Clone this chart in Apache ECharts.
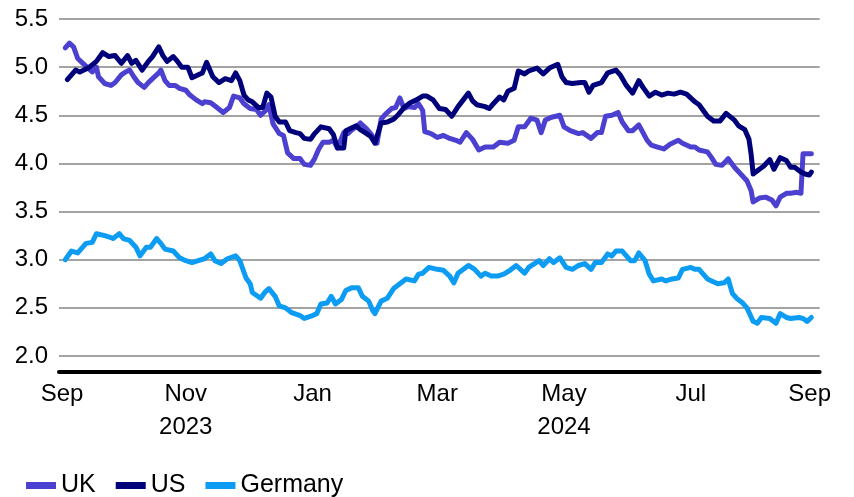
<!DOCTYPE html>
<html>
<head>
<meta charset="utf-8">
<title>10-year government bond yields</title>
<script src="https://cdn.jsdelivr.net/npm/echarts@6/dist/echarts.min.js"></script>
<style>
  html, body { margin: 0; padding: 0; background: #fff; }
  #chart { width: 854px; height: 497px; }
</style>
</head>
<body>
<div id="chart"></div>
<script>
// Days are counted from 1 Sep 2023; values are yields in %.
const seriesNames = ['UK', 'US', 'Germany'];
const seriesColors = ['#4b40cf', '#00007a', '#0d9cf3'];

const ukDays = [3,5,7,9,11,14,16,18,19,22,25,27,30,32,34,36,38,41,43,45,48,49,51,53,56,58,61,63,66,69,70,73,76,79,82,84,87,89,92,95,97,100,101,103,106,108,110,113,116,118,121,123,125,127,130,132,134,137,139,141,143,145,148,150,153,155,157,160,162,164,166,168,171,173,175,176,179,182,185,188,191,193,196,199,202,205,209,212,216,219,221,224,227,230,232,234,237,241,243,246,250,252,256,259,261,263,266,269,271,274,276,279,283,285,288,291,294,298,300,304,306,308,312,314,316,319,322,325,328,331,333,334,337,340,343,345,347,350,352,355,357,358,360,362];
const ukValues = [5.20,5.25,5.21,5.09,5.05,4.99,4.95,5.00,4.90,4.83,4.81,4.84,4.92,4.95,4.97,4.90,4.84,4.79,4.84,4.88,4.94,4.97,4.86,4.81,4.81,4.78,4.76,4.71,4.66,4.62,4.64,4.63,4.58,4.53,4.58,4.70,4.68,4.62,4.57,4.56,4.50,4.56,4.61,4.41,4.31,4.29,4.11,4.05,4.05,3.99,3.98,4.05,4.15,4.22,4.22,4.24,4.16,4.32,4.31,4.35,4.38,4.42,4.36,4.31,4.21,4.46,4.51,4.57,4.58,4.68,4.57,4.59,4.58,4.62,4.55,4.33,4.31,4.27,4.29,4.26,4.24,4.22,4.32,4.25,4.14,4.17,4.17,4.22,4.21,4.24,4.38,4.38,4.47,4.45,4.32,4.45,4.48,4.50,4.38,4.34,4.31,4.32,4.26,4.32,4.32,4.49,4.50,4.53,4.43,4.34,4.34,4.40,4.24,4.19,4.17,4.15,4.20,4.24,4.21,4.17,4.17,4.14,4.12,4.06,3.99,3.98,4.05,3.96,3.89,3.82,3.72,3.60,3.64,3.65,3.62,3.56,3.65,3.69,3.69,3.70,3.69,4.10,4.10,4.10];

const usDays = [4,8,10,14,18,21,24,27,30,33,35,37,40,43,45,48,50,52,55,57,59,62,64,67,69,71,74,77,80,83,85,87,89,91,93,96,98,100,102,104,106,109,111,114,116,118,121,123,126,130,132,134,137,138,141,143,145,148,150,152,155,158,161,163,166,169,172,175,177,180,183,186,189,192,197,199,201,205,207,209,212,214,216,219,221,224,226,230,233,236,240,242,244,247,251,253,255,257,261,264,268,270,273,276,279,281,284,287,290,293,296,299,302,306,308,312,315,318,321,325,327,330,332,333,334,337,339,342,344,347,350,352,354,357,359,361,362];
const usValues = [4.87,4.97,4.95,4.99,5.06,5.15,5.11,5.12,5.04,5.12,5.04,5.07,4.97,5.06,5.11,5.21,5.12,5.06,5.11,5.06,5.00,5.00,4.89,4.92,4.94,5.05,4.90,4.84,4.88,4.86,4.94,4.86,4.71,4.66,4.64,4.58,4.58,4.73,4.69,4.49,4.43,4.43,4.34,4.32,4.31,4.26,4.25,4.31,4.38,4.36,4.30,4.16,4.16,4.34,4.37,4.39,4.35,4.31,4.28,4.21,4.42,4.43,4.46,4.50,4.58,4.63,4.66,4.70,4.70,4.66,4.57,4.56,4.49,4.59,4.73,4.65,4.61,4.59,4.57,4.62,4.69,4.66,4.75,4.78,4.96,4.93,4.96,4.99,4.93,4.99,5.03,4.90,4.84,4.83,4.84,4.84,4.74,4.81,4.84,4.94,4.97,4.92,4.81,4.73,4.86,4.79,4.70,4.74,4.71,4.73,4.72,4.74,4.72,4.64,4.61,4.49,4.44,4.44,4.52,4.45,4.39,4.35,4.25,4.10,3.89,3.94,3.97,4.04,3.94,4.06,4.03,3.96,3.96,3.91,3.89,3.88,3.91];

const deDays = [3,6,9,13,16,18,22,25,26,29,31,34,37,39,42,44,47,49,51,55,58,61,64,67,70,73,75,78,81,85,87,90,92,93,97,99,101,104,106,109,112,116,118,122,124,126,129,131,133,136,138,141,144,146,149,151,152,155,158,161,164,167,171,173,175,178,182,185,188,190,192,197,200,203,205,208,211,214,217,220,224,226,231,233,236,238,241,244,247,250,253,256,258,261,264,266,268,271,275,277,279,282,284,286,290,292,295,298,300,304,306,308,312,314,317,320,322,324,326,329,331,334,336,338,342,345,347,350,352,356,358,360,362];
const deValues = [3.00,3.09,3.07,3.17,3.18,3.27,3.25,3.23,3.22,3.27,3.22,3.20,3.13,3.04,3.13,3.13,3.22,3.17,3.11,3.09,3.02,2.99,2.97,2.99,3.01,3.06,2.99,2.96,3.01,3.04,2.99,2.81,2.75,2.66,2.60,2.66,2.70,2.62,2.52,2.50,2.45,2.42,2.39,2.42,2.44,2.54,2.55,2.62,2.54,2.59,2.68,2.71,2.71,2.62,2.57,2.47,2.44,2.57,2.60,2.70,2.75,2.80,2.78,2.85,2.86,2.92,2.90,2.89,2.83,2.76,2.86,2.94,2.90,2.83,2.86,2.83,2.83,2.85,2.89,2.94,2.86,2.92,2.99,2.94,3.01,2.97,3.02,2.92,2.90,2.94,2.96,2.90,2.97,2.97,3.06,3.04,3.09,3.09,2.99,2.99,3.07,2.99,2.85,2.78,2.80,2.78,2.80,2.81,2.90,2.92,2.90,2.90,2.80,2.78,2.75,2.76,2.80,2.65,2.60,2.55,2.50,2.36,2.34,2.40,2.39,2.34,2.44,2.40,2.39,2.40,2.39,2.36,2.40];

// Month ticks on the day axis (1 Sep 2023 .. 1 Sep 2024) and their labels
const monthTickDays = [0, 61, 122, 182, 243, 304, 366];
const monthTickLabels = ['Sep', 'Nov\n2023', 'Jan', 'Mar', 'May\n2024', 'Jul', 'Sep'];

const yMin = 2.0, yMax = 5.5, yStep = 0.5;

const FONT = '"Liberation Sans", Arial, Helvetica, sans-serif';

function pairs(days, values) {
  return days.map((d, i) => [d, values[i]]);
}

const seriesData = [pairs(ukDays, ukValues), pairs(usDays, usValues), pairs(deDays, deValues)];

const chart = echarts.init(document.getElementById('chart'), null, { renderer: 'canvas' });

chart.setOption({
  animation: false,
  backgroundColor: '#ffffff',
  grid: { left: 59, right: 19, top: 19, bottom: 141, containLabel: false },
  legend: {
    left: 21,
    top: 468,
    itemWidth: 30,
    itemHeight: 7,
    itemGap: 20,
    icon: 'rect',
    textStyle: { fontFamily: FONT, fontSize: 25, color: '#000' },
    data: seriesNames
  },
  xAxis: {
    type: 'value',
    min: 0,
    max: 366,
    offset: 16,
    axisLine: { show: true, lineStyle: { color: '#000', width: 4 } },
    axisTick: { show: false },
    splitLine: { show: false },
    axisLabel: {
      customValues: monthTickDays,
      margin: 6,
      fontFamily: FONT,
      fontSize: 24,
      color: '#000',
      lineHeight: 33,
      verticalAlign: 'top',
      formatter: function (val) {
        const i = monthTickDays.indexOf(val);
        if (i === 0) return '{first|' + monthTickLabels[i] + '}';
        if (i === monthTickDays.length - 1) return '{last|' + monthTickLabels[i] + '}';
        return i >= 0 ? monthTickLabels[i] : '';
      },
      rich: {
        first: { fontFamily: FONT, fontSize: 24, color: '#000', lineHeight: 33, padding: [0, 0, 0, 6] },
        last: { fontFamily: FONT, fontSize: 24, color: '#000', lineHeight: 33, padding: [0, 20, 0, 0] }
      }
    }
  },
  yAxis: {
    type: 'value',
    min: yMin,
    max: yMax,
    interval: yStep,
    axisLine: { show: false },
    axisTick: { show: false },
    splitLine: { show: true, lineStyle: { color: '#a3a3a3', width: 2 } },
    axisLabel: {
      margin: 11,
      fontFamily: FONT,
      fontSize: 24,
      color: '#000',
      formatter: v => v.toFixed(1)
    }
  },
  series: seriesNames.map((name, k) => ({
    name: name,
    type: 'line',
    data: seriesData[k],
    showSymbol: false,
    symbol: 'none',
    lineStyle: { color: seriesColors[k], width: 5, join: 'round', cap: 'round' },
    itemStyle: { color: seriesColors[k] },
    z: 2 + k
  }))
});
</script>
</body>
</html>
